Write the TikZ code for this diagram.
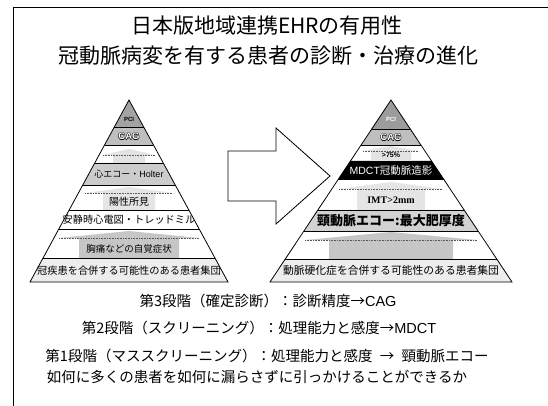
\documentclass[tikz,border=0pt]{standalone}
\usepackage{fontspec}
\setmainfont{Noto Sans CJK JP}
\newfontfamily\timesf{Liberation Serif}
\newfontfamily\arialf{Liberation Sans}
\usetikzlibrary{calc}
\newcommand\pband[4]{\fill[#4] ($(#1a)!#2!(#1l)$) -- ($(#1a)!#2!(#1r)$) -- ($(#1a)!#3!(#1r)$) -- ($(#1a)!#3!(#1l)$) -- cycle;}
\newcommand\psep[2]{\draw[sepline] ($(#1a)!#2!(#1l)$) -- ($(#1a)!#2!(#1r)$);}
\newcommand\house[7]{%
  \fill[#7] (#1-#6,#2) -- (#1-#6,#3) -- (#1-#5,#3) -- (#1,#4) -- (#1+#5,#3) -- (#1+#6,#3) -- (#1+#6,#2) -- cycle;
  \draw[densely dotted, gray!70!black, line width=0.6pt] (#1-#5,#3) -- (#1+#5,#3);}
\newcommand\outl[1]{\leavevmode\rlap{\raisebox{0.45pt}{\color{black}#1}}\rlap{\raisebox{-0.45pt}{\color{black}#1}}\rlap{\hspace{0.45pt}\color{black}#1}\rlap{\hspace{-0.45pt}\color{black}#1}{\color{white}#1}}
\begin{document}
\begin{tikzpicture}[x=1pt,y=-1pt,
  sepline/.style={line width=0.7pt},
  title/.style={font=\fontsize{21}{21}\selectfont, anchor=center, inner sep=0pt},
  body/.style={font=\fontsize{14.5}{14.5}\selectfont, anchor=center, inner sep=0pt},
  lbl/.style={anchor=center, inner sep=0pt},
  ]
\useasboundingbox (0,0) rectangle (548,406);
\fill[white] (0,0) rectangle (548,406);
% frame
\draw[line width=1pt] (13,406) -- (13,8) -- (548,8);
% titles
\node[title] (t1) at (267,26) {日本版地域連携EHRの有用性};
\node[title] (t2) at (268,56) {冠動脈病変を有する患者の診断・治療の進化};

% pyramid corners
\coordinate (La) at (129,100); \coordinate (Ll) at (30,282); \coordinate (Lr) at (228,282);
\coordinate (Ra) at (391,100); \coordinate (Rl) at (270,282); \coordinate (Rr) at (512,282);

% ---------- left pyramid fills
\pband{L}{0}{0.148}{gray!72}
\pband{L}{0.148}{0.247}{gray!50}
\pband{L}{0.346}{0.467}{gray!40}
\pband{L}{0.868}{1}{gray!14}
\house{129}{163}{155}{149}{26}{16}{gray!22}
\house{129}{210}{193}{187}{44}{26}{gray!20}
\house{129}{258}{238}{231}{70}{50}{gray!45}
\foreach \t in {0.148,0.247,0.346,0.467,0.604,0.709,0.868} {\psep{L}{\t}}
\draw[line width=0.8pt] (La) -- (Ll) -- (Lr) -- cycle;

% ---------- right pyramid fills
\pband{R}{0}{0.159}{gray!78}
\pband{R}{0.159}{0.247}{gray!50}
\pband{R}{0.335}{0.434}{black}
\pband{R}{0.604}{0.720}{gray!35}
\pband{R}{0.874}{1}{gray!14}
\house{391}{161}{151}{146}{28}{20}{gray!22}
\house{391}{210}{189}{182}{52}{34}{gray!20}
\house{391}{259}{240}{232}{86}{62}{gray!45}
\foreach \t in {0.159,0.247,0.335,0.434,0.604,0.720,0.874} {\psep{R}{\t}}
\draw[line width=0.8pt] (Ra) -- (Rl) -- (Rr) -- cycle;

% ---------- left labels
\node[lbl, font=\arialf\bfseries\fontsize{6}{6}\selectfont] (lpci) at (129,119) {PCI};
\node[lbl, font=\arialf\bfseries\fontsize{9.5}{9.5}\selectfont] (lcag) at (129,136.5) {\outl{CAG}};
\node[lbl, font=\fontsize{9}{9}\selectfont] (lecho) at (129,174.5) {心エコー・\arialf Holter};
\node[lbl, font=\fontsize{10}{10}\selectfont] (lpos) at (129,201.5) {陽性所見};
\node[lbl, font=\fontsize{10.2}{10.2}\selectfont] (lecg) at (129,220) {安静時心電図・トレッドミル};
\node[lbl, font=\fontsize{9.5}{9.5}\selectfont] (lpain) at (129,249) {胸痛などの自覚症状};
\node[lbl, font=\fontsize{10.2}{10.2}\selectfont] (lbase) at (129,270.5) {冠疾患を合併する可能性のある患者集団};

% ---------- right labels
\node[lbl, font=\arialf\bfseries\fontsize{6}{6}\selectfont, text=white] (rpci) at (391,119) {PCI};
\node[lbl, font=\arialf\bfseries\fontsize{9.5}{9.5}\selectfont] (rcag) at (391,137.5) {\outl{CAG}};
\node[lbl, font=\arialf\bfseries\fontsize{7}{7}\selectfont] (r75) at (391,155) {>75\%};
\node[lbl, font=\fontsize{10.5}{10.5}\selectfont, text=white] (rmdct) at (391,170.5) {\arialf MDCT\rmfamily 冠動脈造影};
\node[lbl, font=\timesf\bfseries\fontsize{10}{10}\selectfont] (rimt) at (391,200) {IMT>2mm};
\node[lbl, font=\bfseries\fontsize{13}{13}\selectfont] (recho) at (391,220.5) {頸動脈エコー:最大肥厚度};
\node[lbl, font=\fontsize{10.8}{10.8}\selectfont] (rbase) at (391,270.5) {動脈硬化症を合併する可能性のある患者集団};

% ---------- block arrow
\draw[line width=0.8pt, fill=white] (228,151) -- (276,151) -- (276,128) -- (330,176) -- (276,224) -- (276,201) -- (228,201) -- cycle;

% ---------- bottom text
\node[body] (b1) at (268,301) {第3段階（確定診断）：診断精度→\arialf CAG};
\node[body] (b2) at (259,328) {第2段階（スクリーニング）：処理能力と感度→\arialf MDCT};
\node[body] (b3) at (267,356) {第1段階（マススクリーニング）：処理能力と感度\hspace{0.5em}→\hspace{0.5em}頸動脈エコー};
\node[body] (b4) at (257,377) {如何に多くの患者を如何に漏らさずに引っかけることができるか};
\end{tikzpicture}
\end{document}
